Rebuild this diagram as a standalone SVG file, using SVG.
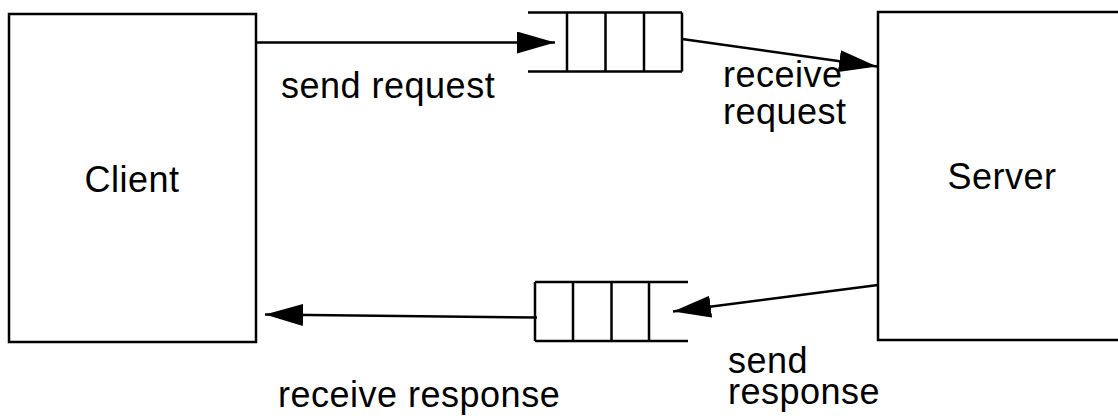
<svg xmlns="http://www.w3.org/2000/svg" width="1118" height="416" viewBox="0 0 1118 416">
<style>
.box{fill:#fff;stroke:#000;stroke-width:2.5}
.ln{fill:none;stroke:#000;stroke-width:2.5}
.t{font-family:"Liberation Sans",Arial,sans-serif;font-size:36px;letter-spacing:0.5px;fill:#000}
</style>
<defs>
<marker id="ah" markerUnits="userSpaceOnUse" markerWidth="40" markerHeight="24" refX="38" refY="11" orient="auto">
<path d="M0,0 L38,11 L0,22 Z" fill="#000"/>
</marker>
</defs>
<rect width="1118" height="416" fill="#fff"/>
<g id="client">
<rect class="box" x="9" y="14" width="247" height="328"/>
<text class="t" x="132" y="192" text-anchor="middle">Client</text>
</g>
<g id="server">
<rect class="box" x="878" y="12" width="250" height="328"/>
<text class="t" x="1002" y="189" text-anchor="middle">Server</text>
</g>
<g id="queue-request">
<path class="ln" d="M528,12.5 H682 M528,71.5 H682 M567,12.5 V71.5 M605.5,12.5 V71.5 M644,12.5 V71.5 M682,12.5 V71.5"/>
</g>
<g id="queue-response">
<path class="ln" d="M535,282 H688 M535,341 H688 M535,282 V341 M573,282 V341 M611.5,282 V341 M649,282 V341"/>
</g>
<g id="connectors">
<line class="ln" x1="256" y1="42.5" x2="555" y2="42.5" marker-end="url(#ah)"/>
<line class="ln" x1="682" y1="39" x2="877" y2="66.5" marker-end="url(#ah)"/>
<line class="ln" x1="878" y1="285" x2="673" y2="311.5" marker-end="url(#ah)"/>
<line class="ln" x1="537" y1="317.5" x2="265" y2="314.5" marker-end="url(#ah)"/>
</g>
<g id="labels">
<text class="t" x="281" y="98">send request</text>
<text class="t" x="723" y="87">receive</text>
<text class="t" x="723" y="124">request</text>
<text class="t" x="728" y="373">send</text>
<text class="t" x="728" y="404">response</text>
<text class="t" x="278" y="407">receive response</text>
</g>
</svg>
